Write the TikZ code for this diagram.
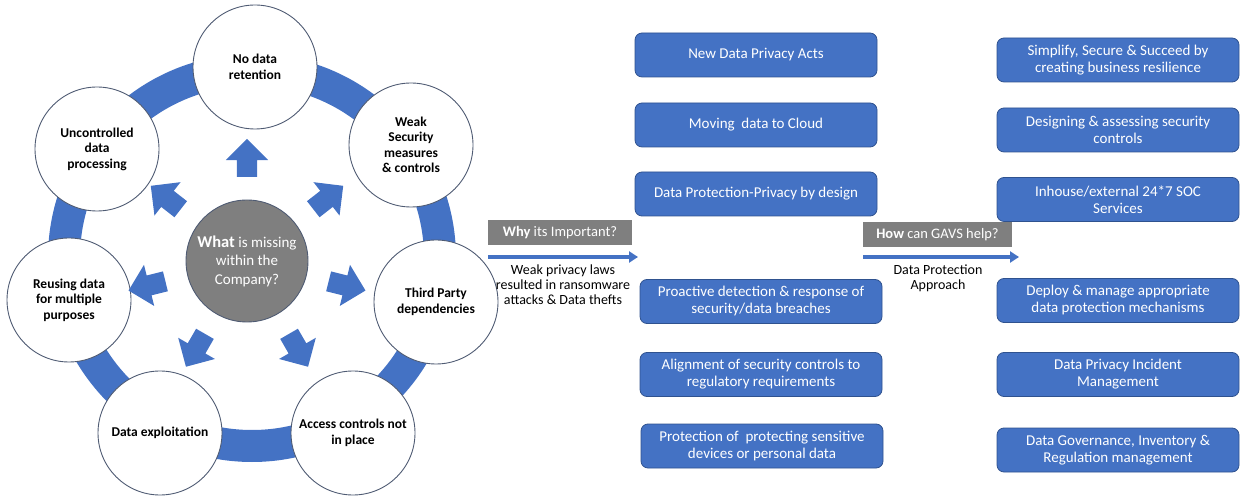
\documentclass[tikz,border=0pt]{standalone}
\usepackage{fontspec}
\setmainfont{Carlito}
\usetikzlibrary{shapes.arrows,arrows.meta,calc}
\definecolor{boxblue}{HTML}{4472C4}
\definecolor{boxedge}{HTML}{2F528F}
\definecolor{midgrey}{HTML}{7F7F7F}
\definecolor{rimgrey}{HTML}{4F5B73}

\begin{document}
\begin{tikzpicture}[x=1pt, y=1pt,
   place/.style={circle, draw=rimgrey, line width=0.9pt, fill=white, minimum size=124pt, inner sep=0pt, align=center, font=\fontsize{13.5}{15.5}\selectfont\bfseries},
   hub/.style={circle, draw=rimgrey, line width=0.9pt, fill=midgrey, minimum size=122pt, inner sep=0pt, align=center, text=white, font=\fontsize{15}{18.5}\selectfont},
   spoke/.style={single arrow, fill=boxblue, minimum height=38pt, inner sep=10pt, single arrow head extend=11pt},
   item/.style={rectangle, rounded corners=7pt, draw=boxedge, line width=0.8pt, fill=boxblue, text=white, minimum width=242pt, minimum height=44pt, inner sep=0pt, align=center, font=\fontsize{15}{17}\selectfont},
   tag/.style={rectangle, fill=midgrey, text=white, minimum height=25pt, inner sep=0pt, font=\fontsize{14.5}{16}\selectfont},
   note/.style={anchor=north, inner sep=0pt, align=center, font=\fontsize{14}{15}\selectfont},
   flow/.style={-{Triangle[length=9pt,width=11pt]}, draw=boxblue, line width=4pt}]

\useasboundingbox (0,0) rectangle (1246,495);

% ring behind the circles
\draw[boxblue, line width=32pt] (252,237) circle (188pt);

\node[place] (nodata) at (255, 428) {No data\\retention};
\node[place] (weak) at (411, 350) {Weak\\Security\\measures\\\& controls};
\node[place] (third) at (436, 193) {Third Party\\dependencies};
\node[place] (access) at (353, 62) {Access controls not\\in place};
\node[place] (exploit) at (160, 62) {Data exploitation};
\node[place] (reuse) at (69, 195) {Reusing data\\for multiple\\purposes};
\node[place] (uncontrolled) at (97, 346) {Uncontrolled\\data\\processing};

\node[hub] (ctr) at (247, 234) {{\fontsize{16.5}{18.5}\selectfont\bfseries What} is missing\\within the\\Company?};

% arrows pointing out of the hub
\foreach \ang/\nm in {90/sp1, 38/sp2, -14/sp3, -60/sp4, -120/sp5, -166/sp6, 142/sp7}
   \node[spoke, rotate=\ang] (\nm) at ($(ctr)+(\ang:98)$) {};

% why
\node[tag, minimum width=144pt] (why) at (560, 262.5) {\textbf{Why} its Important?};
\coordinate (whya) at (488, 238);
\coordinate (whyb) at (638, 238);
\node[note] (whytxt) at (563, 230) {Weak privacy laws\\resulted in ransomware\\attacks \& Data thefts};

% how
\node[tag, minimum width=149pt] (how) at (937.5, 260.5) {\textbf{How} can GAVS help?};
\coordinate (howa) at (863, 238);
\coordinate (howb) at (1019, 238);
\node[note] (howtxt) at (938, 230) {Data Protection\\Approach};

\path
    (whya) edge[flow] (whyb)
    (howa) edge[flow] (howb)
;

% reasons
\node[item] (b1) at (756, 440) {New Data Privacy Acts};
\node[item] (b2) at (756, 370) {Moving~ data to Cloud};
\node[item] (b3) at (756, 301) {Data Protection-Privacy by design};
\node[item] (b4) at (761, 193.5) {Proactive detection \& response of\\security/data breaches};
\node[item] (b5) at (761, 120.5) {Alignment of security controls to\\regulatory requirements};
\node[item] (b6) at (762, 49) {Protection of~ protecting sensitive\\devices or personal data};

% services
\node[item] (c1) at (1118, 435) {Simplify, Secure \& Succeed by\\creating business resilience};
\node[item] (c2) at (1118, 365) {Designing \& assessing security\\controls};
\node[item] (c3) at (1118, 295.5) {Inhouse/external 24*7 SOC\\Services};
\node[item] (c4) at (1118, 194.5) {Deploy \& manage appropriate\\data protection mechanisms};
\node[item] (c5) at (1118, 120.5) {Data Privacy Incident\\Management};
\node[item] (c6) at (1118, 45) {Data Governance, Inventory \&\\Regulation management};

\end{tikzpicture}
\end{document}
